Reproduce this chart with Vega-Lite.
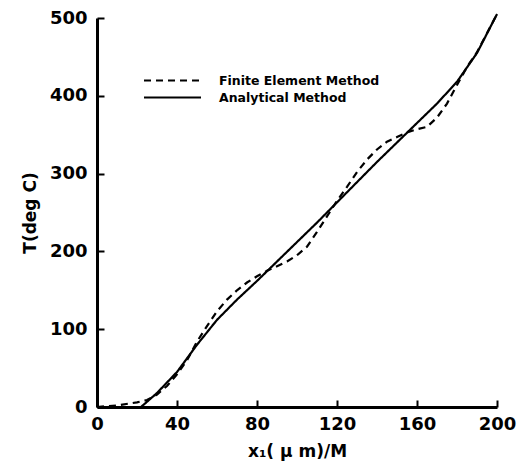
{
  "$schema": "https://vega.github.io/schema/vega-lite/v6.json",
  "autosize": "none",
  "padding": {"left": 97, "top": 18, "right": 31, "bottom": 63},
  "width": 400,
  "height": 389,
  "background": "white",
  "config": {
    "view": {"stroke": null},
    "font": "DejaVu Sans"
  },
  "data": {
    "values": [
      {"method": "Analytical Method", "x": 22, "T": 0},
      {"method": "Analytical Method", "x": 30, "T": 18},
      {"method": "Analytical Method", "x": 40, "T": 45},
      {"method": "Analytical Method", "x": 50, "T": 80},
      {"method": "Analytical Method", "x": 60, "T": 112},
      {"method": "Analytical Method", "x": 70, "T": 138},
      {"method": "Analytical Method", "x": 80, "T": 162},
      {"method": "Analytical Method", "x": 90, "T": 187},
      {"method": "Analytical Method", "x": 100, "T": 212},
      {"method": "Analytical Method", "x": 110, "T": 237},
      {"method": "Analytical Method", "x": 120, "T": 263},
      {"method": "Analytical Method", "x": 130, "T": 289},
      {"method": "Analytical Method", "x": 140, "T": 315},
      {"method": "Analytical Method", "x": 150, "T": 340},
      {"method": "Analytical Method", "x": 160, "T": 365},
      {"method": "Analytical Method", "x": 170, "T": 390},
      {"method": "Analytical Method", "x": 180, "T": 418},
      {"method": "Analytical Method", "x": 190, "T": 455},
      {"method": "Analytical Method", "x": 200, "T": 505},
      {"method": "Finite Element Method", "x": 0, "T": 0},
      {"method": "Finite Element Method", "x": 10, "T": 2},
      {"method": "Finite Element Method", "x": 20, "T": 6},
      {"method": "Finite Element Method", "x": 25, "T": 9},
      {"method": "Finite Element Method", "x": 30, "T": 16},
      {"method": "Finite Element Method", "x": 35, "T": 27},
      {"method": "Finite Element Method", "x": 40, "T": 42},
      {"method": "Finite Element Method", "x": 45, "T": 60},
      {"method": "Finite Element Method", "x": 50, "T": 84},
      {"method": "Finite Element Method", "x": 55, "T": 104},
      {"method": "Finite Element Method", "x": 60, "T": 123},
      {"method": "Finite Element Method", "x": 65, "T": 138},
      {"method": "Finite Element Method", "x": 70, "T": 150},
      {"method": "Finite Element Method", "x": 75, "T": 160},
      {"method": "Finite Element Method", "x": 80, "T": 168},
      {"method": "Finite Element Method", "x": 85, "T": 175},
      {"method": "Finite Element Method", "x": 90, "T": 181},
      {"method": "Finite Element Method", "x": 95, "T": 187},
      {"method": "Finite Element Method", "x": 100, "T": 195},
      {"method": "Finite Element Method", "x": 105, "T": 206},
      {"method": "Finite Element Method", "x": 110, "T": 225},
      {"method": "Finite Element Method", "x": 115, "T": 245},
      {"method": "Finite Element Method", "x": 120, "T": 265},
      {"method": "Finite Element Method", "x": 125, "T": 283},
      {"method": "Finite Element Method", "x": 130, "T": 302},
      {"method": "Finite Element Method", "x": 135, "T": 318},
      {"method": "Finite Element Method", "x": 140, "T": 331},
      {"method": "Finite Element Method", "x": 145, "T": 341},
      {"method": "Finite Element Method", "x": 150, "T": 347},
      {"method": "Finite Element Method", "x": 155, "T": 353},
      {"method": "Finite Element Method", "x": 160, "T": 357},
      {"method": "Finite Element Method", "x": 165, "T": 360},
      {"method": "Finite Element Method", "x": 170, "T": 372},
      {"method": "Finite Element Method", "x": 175, "T": 390},
      {"method": "Finite Element Method", "x": 180, "T": 414},
      {"method": "Finite Element Method", "x": 185, "T": 437},
      {"method": "Finite Element Method", "x": 190, "T": 456},
      {"method": "Finite Element Method", "x": 200, "T": 505}
    ]
  },
  "mark": {"type": "line", "color": "black", "strokeWidth": 2.2, "clip": false},
  "encoding": {
    "x": {
      "field": "x",
      "type": "quantitative",
      "scale": {"domain": [0, 200], "nice": false, "zero": false},
      "axis": {
        "values": [0, 40, 80, 120, 160, 200],
        "title": "x₁( μ m)/M",
        "grid": false,
        "labelFlush": false,
        "domainColor": "black",
        "domainWidth": 3,
        "tickColor": "black",
        "tickWidth": 2,
        "tickSize": -7,
        "labelPadding": 15,
        "labelFontSize": 18,
        "labelFontWeight": "bold",
        "labelColor": "black",
        "titleFontSize": 17,
        "titleFontWeight": "bold",
        "titleColor": "black",
        "titlePadding": 10
      }
    },
    "y": {
      "field": "T",
      "type": "quantitative",
      "scale": {"domain": [0, 500], "nice": false, "zero": false},
      "axis": {
        "values": [0, 100, 200, 300, 400, 500],
        "title": "T(deg C)",
        "grid": false,
        "labelFlush": false,
        "domainColor": "black",
        "domainWidth": 3,
        "tickColor": "black",
        "tickWidth": 2,
        "tickSize": -7,
        "labelPadding": 17,
        "labelFontSize": 18,
        "labelFontWeight": "bold",
        "labelColor": "black",
        "titleFontSize": 17,
        "titleFontWeight": "bold",
        "titleColor": "black",
        "titlePadding": 10
      }
    },
    "strokeDash": {
      "field": "method",
      "type": "nominal",
      "scale": {
        "domain": ["Finite Element Method", "Analytical Method"],
        "range": [[7, 5], [1, 0]]
      },
      "legend": {
        "title": null,
        "orient": "none",
        "legendX": 65,
        "legendY": 52,
        "symbolType": "M-3,0H3",
        "symbolSize": 361,
        "symbolStrokeWidth": 2,
        "symbolStrokeColor": "black",
        "labelFontSize": 12.5,
        "labelFontWeight": "bold",
        "labelColor": "black",
        "labelLimit": 400,
        "labelOffset": 36,
        "rowPadding": 0
      }
    }
  }
}
